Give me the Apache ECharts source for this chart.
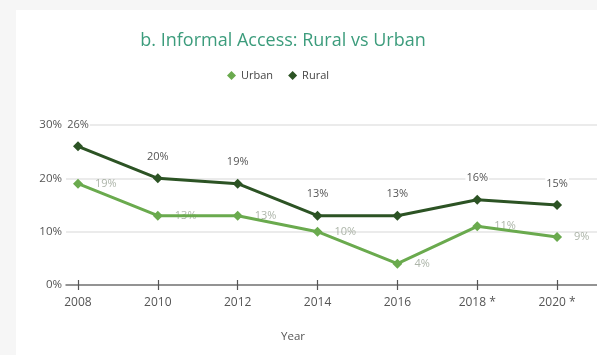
<!DOCTYPE html>
<html>
<head>
<meta charset="utf-8">
<script src="https://cdn.jsdelivr.net/npm/echarts@6/dist/echarts.min.js"></script>
<style>
  html, body { margin: 0; padding: 0; background: #f6f6f6; }
  #card { position: absolute; left: 16px; top: 10px; right: 0; bottom: 0; background: #ffffff; }
  #chart { position: absolute; left: 0; top: 0; width: 597px; height: 355px; }
</style>
</head>
<body>
<div id="card"></div>
<div id="chart"></div>
<script>
// Informal access by area, survey years
const years = [2008, 2010, 2012, 2014, 2016, 2018, 2020];
const yearLabels = ['2008', '2010', '2012', '2014', '2016', '2018 *', '2020 *'];
const urban = [19, 13, 13, 10, 4, 11, 9];
const rural = [26, 20, 19, 13, 13, 16, 15];
const yTicks = [0, 10, 20, 30];

const urbanColor = '#6aaa4e';
const ruralColor = '#2c5324';
const font = 'Open Sans';

const pairs = arr => years.map((y, i) => [y, arr[i]]);
const labelFor = {};
years.forEach((y, i) => { labelFor[y] = yearLabels[i]; });

const chart = echarts.init(document.getElementById('chart'), null, { renderer: 'canvas' });

chart.setOption({
  backgroundColor: 'transparent',
  animation: false,
  title: {
    text: 'b. Informal Access: Rural vs Urban',
    left: 278, top: 27, textAlign: 'center',
    textStyle: { color: '#3c9c7c', fontFamily: font, fontSize: 18, fontWeight: 'normal' }
  },
  legend: {
    data: ['Urban', 'Rural'],
    left: 222, top: 65,
    itemWidth: 9, itemHeight: 9, itemGap: 15,
    textStyle: { color: '#444', fontFamily: font, fontSize: 11 },
    icon: 'diamond'
  },
  grid: { left: 66, right: -4, top: 125, bottom: 70 },
  xAxis: [{
    type: 'value', min: 2007.7, max: 2021,
    axisLine: { show: true, lineStyle: { color: '#777', width: 1.5 } },
    axisTick: { show: true, length: 5, customValues: years, lineStyle: { color: '#555', width: 1.2 } },
    axisLabel: {
      customValues: years, margin: 12,
      formatter: v => labelFor[v] || '',
      color: '#555', fontFamily: font, fontSize: 12
    },
    splitLine: { show: false }
  }, {
    type: 'value', min: 2007.7, max: 2021, position: 'bottom',
    axisLine: { show: false },
    axisTick: { show: true, inside: true, length: 5, customValues: years, lineStyle: { color: '#555', width: 1.2 } },
    axisLabel: { show: false },
    splitLine: { show: false }
  }],
  yAxis: {
    type: 'value', min: 0, max: 30, interval: 10,
    axisLine: { show: false },
    axisTick: { show: false },
    axisLabel: {
      margin: 4, formatter: v => yTicks.includes(v) ? v + '%' : '',
      color: '#555', fontFamily: font, fontSize: 11.5
    },
    splitLine: { show: true, lineStyle: { color: '#e4e4e4', width: 1.5 } }
  },
  graphic: [{
    type: 'text', left: 281, top: 331,
    style: { text: 'Year', fill: '#555', font: '11.5px "Open Sans"' }
  }],
  series: [
    {
      // Urban value labels sit beneath the lines
      name: 'UrbanLabels', type: 'scatter', z: 1,
      data: pairs(urban), symbolSize: 0, silent: true,
      label: {
        show: true, position: 'right', distance: 17,
        formatter: p => p.value[1] + '%',
        color: '#98a394', fontFamily: font, fontSize: 11
      }
    },
    {
      name: 'Urban', type: 'line', z: 3,
      data: pairs(urban),
      symbol: 'diamond', symbolSize: 10,
      lineStyle: { color: urbanColor, width: 3 },
      itemStyle: { color: urbanColor },
      label: { show: false }
    },
    {
      name: 'Rural', type: 'line', z: 3,
      data: pairs(rural),
      symbol: 'diamond', symbolSize: 10,
      lineStyle: { color: ruralColor, width: 3 },
      itemStyle: { color: ruralColor },
      label: {
        show: true, position: 'top', distance: 11,
        formatter: p => p.value[1] + '%',
        color: '#555', fontFamily: font, fontSize: 11,
        backgroundColor: '#fff', padding: [0, 1]
      }
    }
  ]
});
</script>
</body>
</html>
